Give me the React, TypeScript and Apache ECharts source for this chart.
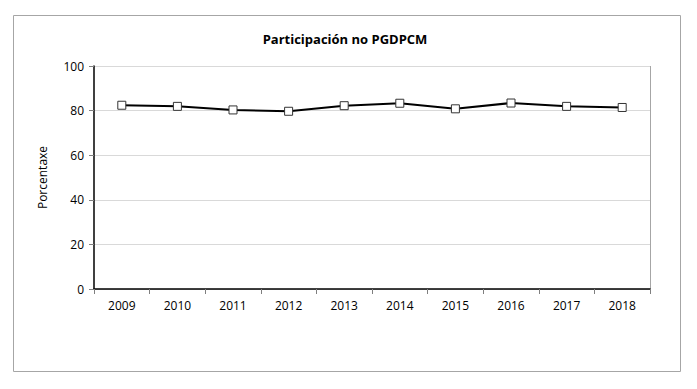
import React, { useEffect, useRef } from "react";
import * as echarts from "echarts";

const years = ["2009", "2010", "2011", "2012", "2013", "2014", "2015", "2016", "2017", "2018"];
const participation = [82.4, 81.9, 80.3, 79.7, 82.2, 83.3, 80.8, 83.4, 81.9, 81.4];
const yTicks = { min: 0, max: 100, interval: 20 };
const title = "Participación no PGDPCM";
const yName = "Porcentaxe";

const FONT = "'Open Sans', 'Liberation Sans', sans-serif";

export default function App() {
  const ref = useRef<HTMLDivElement>(null);
  useEffect(() => {
    if (!ref.current) return;
    const chart = echarts.init(ref.current, undefined, { renderer: "svg" });
    chart.setOption({
      animation: false,
      backgroundColor: "#ffffff",
      textStyle: { fontFamily: FONT },
      title: {
        text: title,
        left: 340,
        top: 27,
        textAlign: "center",
        textStyle: { fontFamily: FONT, fontWeight: "bold", fontSize: 13, color: "#000" },
      },
      graphic: [
        {
          type: "rect",
          shape: { x: 13.5, y: 15.5, width: 667, height: 356 },
          style: { fill: "none", stroke: "#a6a6a6", lineWidth: 1 },
          silent: true,
        },
        {
          type: "line",
          shape: { x1: 650.5, y1: 66, x2: 650.5, y2: 289 },
          style: { stroke: "#a6a6a6", lineWidth: 1 },
          silent: true,
        },
      ],
      grid: { left: 94, right: 47, top: 66, bottom: 100, containLabel: false },
      xAxis: {
        type: "category",
        data: years,
        boundaryGap: true,
        axisLine: { show: true, lineStyle: { color: "#000", width: 1.5 } },
        axisTick: { show: true, length: 5, inside: false, lineStyle: { color: "#7f7f7f" } },
        axisLabel: { color: "#000", fontSize: 12, margin: 10, fontFamily: FONT },
        splitLine: { show: false },
      },
      yAxis: {
        type: "value",
        min: yTicks.min,
        max: yTicks.max,
        interval: yTicks.interval,
        name: yName,
        nameLocation: "middle",
        nameRotate: 90,
        nameGap: 46,
        nameTextStyle: { color: "#000", fontSize: 12, fontFamily: FONT },
        axisLine: { show: true, lineStyle: { color: "#000", width: 1.5 } },
        axisTick: { show: true, length: 5, lineStyle: { color: "#7f7f7f" } },
        axisLabel: { color: "#000", fontSize: 12, margin: 10, fontFamily: FONT },
        splitLine: { show: true, lineStyle: { color: "#d9d9d9", width: 1 } },
      },
      series: [
        {
          type: "line",
          data: participation,
          symbol: "rect",
          symbolSize: 8,
          lineStyle: { color: "#000", width: 2 },
          itemStyle: { color: "#ffffff", borderColor: "#333", borderWidth: 1 },
          z: 3,
        },
      ],
    });
    return () => chart.dispose();
  }, []);
  return (
    <div
      ref={ref}
      style={{ position: "fixed", left: 0, top: 0, width: 697, height: 389 }}
    />
  );
}
